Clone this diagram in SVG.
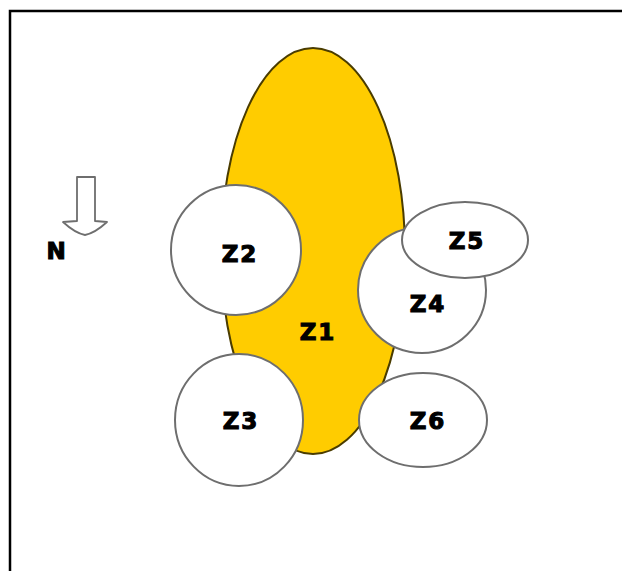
<svg xmlns="http://www.w3.org/2000/svg" width="622" height="571" viewBox="0 0 622 571">
<style>
.zone{fill:#fff;stroke:#6e6e6e;stroke-width:2}
.lbl{font-family:"DejaVu Sans","Liberation Sans",sans-serif;font-weight:bold;font-size:23px;fill:#000;stroke:#000;stroke-width:1.1;text-anchor:middle;letter-spacing:2px}
</style>
<rect width="622" height="571" fill="#fff"/>
<path d="M10,571 V11 H622" fill="none" stroke="#000" stroke-width="2.5"/>
<g id="north">
<path d="M77,177 H95 V221 L107,222 Q95,233 85,235 Q75,233 63,222 L77,221 Z" fill="#fff" stroke="#6e6e6e" stroke-width="1.8" stroke-linejoin="round"/>
<text class="lbl" x="57" y="259">N</text>
</g>
<g id="Z1">
<ellipse cx="313" cy="251" rx="92" ry="203" fill="#ffcc00" stroke="#4a3c00" stroke-width="2"/>
<text class="lbl" x="318" y="340">Z1</text>
</g>
<g id="Z2">
<ellipse class="zone" cx="236" cy="250" rx="65" ry="65"/>
<text class="lbl" x="240" y="262">Z2</text>
</g>
<g id="Z3">
<ellipse class="zone" cx="239" cy="420" rx="64" ry="66"/>
<text class="lbl" x="241" y="429">Z3</text>
</g>
<g id="Z6">
<ellipse class="zone" cx="423" cy="420" rx="64" ry="47"/>
<text class="lbl" x="428" y="429">Z6</text>
</g>
<g id="Z4">
<ellipse class="zone" cx="422" cy="290" rx="64" ry="63"/>
<text class="lbl" x="428" y="312">Z4</text>
</g>
<g id="Z5">
<ellipse class="zone" cx="465" cy="240" rx="63" ry="38"/>
<text class="lbl" x="467" y="249">Z5</text>
</g>
</svg>
